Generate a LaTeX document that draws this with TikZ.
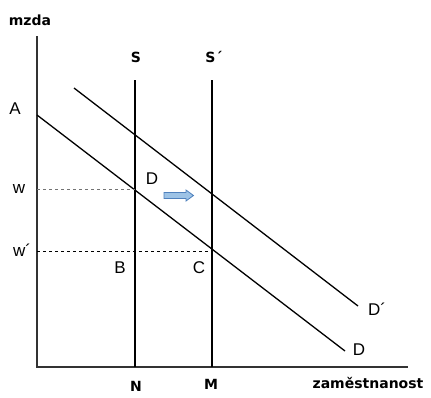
\documentclass[tikz,border=0pt]{standalone}
\usepackage{fontspec}
\setmainfont{Liberation Sans}
\newfontfamily\boldlab{DejaVu Sans}
\definecolor{arrfill}{HTML}{9DC3E6}
\definecolor{arrline}{HTML}{4F81BD}
\begin{document}
\begin{tikzpicture}[x=1pt,y=-1pt,
  lbl/.style={inner sep=0pt,font=\fontsize{17}{17}\selectfont},
  blbl/.style={inner sep=0pt,font=\boldlab\fontsize{14}{14}\selectfont\bfseries},
  axis/.style={line width=1.8pt,draw=black!80},
  supply/.style={line width=1.8pt},
  demand/.style={line width=1.3pt},
  guide/.style={dashed,line width=0.8pt},
  shiftarrow/.style={draw=arrline,fill=arrfill,line width=0.8pt,line join=miter}]
\useasboundingbox (0,0) rectangle (431,397);
% axes
\coordinate (O) at (37,367);
\coordinate (Ytop) at (37,36);
\coordinate (Xend) at (408,367);
\draw[axis] (Ytop) -- (O) -- (Xend);
% supply lines
\coordinate (Stop) at (135,80);
\coordinate (Sbot) at (135,367);
\coordinate (S2top) at (212,80);
\coordinate (S2bot) at (212,367);
\draw[supply] (Stop) -- (Sbot);
\draw[supply] (S2top) -- (S2bot);
% demand lines
\coordinate (Dstart) at (37,115);
\coordinate (Dend) at (345,351);
\coordinate (D2start) at (74,88);
\coordinate (D2end) at (358,306);
\draw[demand] (Dstart) -- (Dend);
\draw[demand] (D2start) -- (D2end);
% guides
\coordinate (wL) at (37,189);
\coordinate (wR) at (135,189);
\coordinate (w2L) at (37,251);
\coordinate (w2R) at (212,251);
\draw[guide,draw=black!55] (wL) -- (wR);
\draw[guide] (w2L) -- (w2R);
% shift arrow
\draw[shiftarrow] (164,192.5) -- (186,192.5) -- (186,190) -- (193.5,195.5)
  -- (186,201) -- (186,198.5) -- (164,198.5) -- cycle;
% labels
\node[blbl] (mzda) at (30,20) {mzda};
\node[blbl] (S) at (136,57) {S};
\node[blbl] (S2) at (214,57) {S\char"00B4};
\node[lbl] (A) at (15,109) {A};
\node[lbl] (w) at (19,189) {w};
\node[lbl] (w2) at (22,250) {w\char"00B4};
\node[lbl] (Dlab) at (152,179) {D};
\node[lbl] (B) at (120,268) {B};
\node[lbl] (C) at (199,268) {C};
\node[lbl] (D2lab) at (377,309) {D\char"00B4};
\node[lbl] (Dend lab) at (359,350) {D};
\node[blbl] (N) at (136,386) {N};
\node[blbl] (M) at (211,384) {M};
\node[blbl] (zam) at (368,383) {zaměstnanost};
\end{tikzpicture}
\end{document}
